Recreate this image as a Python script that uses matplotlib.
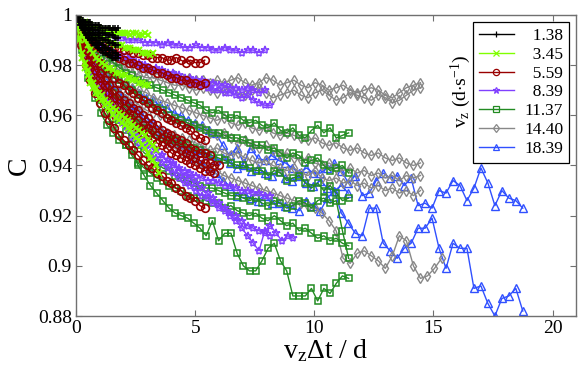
import numpy as np
import matplotlib.pyplot as plt

plt.rcParams['font.family'] = 'Liberation Serif'
plt.rcParams['mathtext.fontset'] = 'custom'
plt.rcParams['mathtext.rm'] = 'Liberation Serif'
plt.rcParams['mathtext.it'] = 'Liberation Serif:italic'

# vertical speed of each group of runs (d/s), legend order
speeds = ['1.38', '3.45', '5.59', '8.39', '11.37', '14.40', '18.39']
# lag step of each group, in units of v_z*dt/d
steps = [0.06, 0.12, 0.2, 0.24, 0.26, 0.295, 0.293]

# 1 - C in thousandths, one list per run
loss_138 = [
    [0,1,1,2,2,2,3,3,3,3,3,4,4,4,4,4,4,5,5,5,5,5,5,5,5,6,5,5,6,5],
    [0,1,2,2,3,3,4,4,4,5,5,5,6,6,6,6,7,7,7,7,7,8,8,8,8,8,8,9,9,9],
    [0,1,2,3,4,4,5,5,6,6,7,7,7,8,8,8,9,9,9,10,10,10,10,11,11,11,11,12,12,12],
    [0,2,3,4,5,5,6,7,7,8,8,9,9,10,10,11,11,11,12,12,13,13,13,14,14,14,15,15,15,16],
    [0,2,3,4,5,6,7,8,9,9,10,11,11,12,12,13,13,14,14,15,15,15,16,16,16,17,17,17,17,17],
]
loss_345 = [
    [0,2,3,3,4,4,5,5,5,6,6,6,6,7,7,7,7,7,7,8,7,7,8,8,7,8],
    [0,2,4,5,6,7,8,8,9,9,10,10,11,11,12,12,12,13,13,13,14,14,14,15,15,15,16,15],
    [0,5,8,10,12,14,15,17,18,19,20,21,21,22,23,23,24,24,25,25,26,26,27,27,28,28],
    [0,10,17,21,24,27,29,31,33,34,36,37,38,40,41,42,43,44,45,46,48,49,50,52,53,55,57,58,60,63],
    [0,9,15,19,22,25,27,29,31,32,34,35,36,37,38,39,40,41,42,43,44,45,46,47,48,50,51,52,54],
]
loss_559 = [
    [0,4,6,8,9,10,11,12,13,13,14,14,15,15,16,16,17,17,17,18,18,17,18,19,18,19,19,18],
    [0,5,8,10,12,13,14,15,16,17,18,19,19,20,21,21,22,23,23,24,25,25,26,26,27,27,28,27],
    [0,7,11,14,17,19,21,23,25,27,28,30,31,33,34,35,37,38,39,41,42,43,44,45,46,48,49,50],
    [0,8,13,17,20,23,26,28,30,32,34,35,37,38,40,41,43,44,46,47,48,49,50,51,53,54,55,55,56],
    [0,9,14,18,22,25,28,31,33,35,37,39,40,42,44,45,46,48,49,50,51,53,54,55,56,57,58,59,59,60,60],
    [0,10,16,21,25,28,31,34,36,38,40,42,44,45,47,48,50,51,52,53,55,56,57,58,59,60,61,62,62,63],
    [0,12,20,26,31,35,39,42,45,48,50,52,54,56,58,60,61,63,64,66,67,69,70,72,73,74,76,77],
]
loss_839 = [
    [0,3,5,6,7,8,8,9,9,10,10,10,11,11,11,12,11,12,12,13,13,12,13,13,14,14,13,14,14,15,14,14,15,14],
    [0,5,8,10,12,14,15,16,17,18,19,20,21,22,22,23,24,25,26,26,27,28,28,29,30,30,31,31,32,33,32,34,35,36,36],
    [0,4,7,9,11,12,14,15,16,17,18,19,20,21,21,22,23,23,24,25,25,26,26,27,27,28,28,29,29,30,29,30,31,30],
    [0,10,17,23,28,32,36,40,43,46,49,51,53,55,57,59,61,63,65,67,68,70,72,73,75,77,78,80,82,85,88,91,94,86,84,87,90,88,89],
    [0,9,16,21,26,30,34,37,40,43,46,48,50,52,54,56,58,60,62,64,65,67,69,71,73,75,77,79,80,82,84,85,86,87,88],
    [0,8,14,19,24,28,32,35,38,41,44,47,50,52,54,56,58,59,61,62,63,64,65,66,66,67,68,68,69,70,70,71,71,72,72],
]
loss_1137 = [
    [0,6,10,13,15,17,19,21,23,24,26,27,28,29,30,31,32,33,34,35,36,38,39,38,40,41,40,42,43,42,
     44,45,43,46,47,45,48,49,46,44,47,45,49,48,47],
    [0,7,12,16,19,22,24,26,28,30,32,34,35,37,38,40,41,42,43,44,45,46,47,47,48,49,49,50,51,52,
     52,54,53,55,57,55,56,59,58,57,60,62,61,60,63],
    [0,9,15,20,24,28,31,34,37,40,43,45,47,48,49,50,50,51,52,53,54,55,56,57,58,59,60,60,61,62,
     62,64,62,63,66,65,64,67,69,67,70,68,71,74,73],
    [0,10,18,24,29,34,38,42,46,49,52,55,57,59,61,62,64,65,66,67,68,69,69,70,71,72,72,73,74,73,
     75,76,74,75,77,76,74,75,77,74,73,75,74,86,97],
    [0,12,21,28,34,39,44,48,52,56,59,61,63,65,66,68,69,70,72,73,73,74,75,75,77,76,78,79,80,79,
     81,82,80,82,84,83,86,85,87,89,88,90,89,91,92],
    [0,14,25,33,39,44,47,50,52,54,60,64,68,71,74,77,79,80,81,83,85,88,82,90,87,87,95,100,102,102,
     98,93,91,98,102,112,112,112,109,114,109,111,107,104,105],
]
loss_1440 = [
    [0,6,10,13,15,17,18,19,20,21,22,23,23,24,24,25,25,26,26,27,26,27,26,25,27,28,27,25,26,28,
     27,26,28,29,27,28,30,29,28,30,31,30,29,30,32,33,31,29,28,27],
    [0,7,11,14,17,19,20,22,23,24,25,25,26,27,28,28,29,30,29,30,31,30,29,31,32,30,29,31,33,32,
     31,30,32,33,31,30,32,34,33,31,32,33,34,32,33,35,34,32,30,29],
    [0,7,12,16,20,23,25,27,29,30,31,33,34,35,36,37,38,39,40,41,42,41,43,44,43,45,46,45,47,48,
     47,48,49,50,49,51,52,51,53,54,53,55,56,55,57,58,57,59,60,59],
    [0,9,15,20,24,27,30,32,34,36,38,39,40,41,42,43,44,44,45,47,48,47,49,51,50,52,53,52,54,56,
     55,57,58,57,59,60,59,61,62,61,63,62,64,63,65,64,66,64,65,64],
    [0,11,18,24,28,32,35,38,40,42,44,45,46,47,48,49,50,51,52,54,53,55,56,55,57,58,59,58,60,61,
     62,61,63,64,62,65,66,65,67,66,68,67,69,68,70,69,71,70,72,70],
    [0,10,17,23,28,32,35,38,40,43,45,47,49,51,53,55,56,58,60,61,62,64,65,66,67,68,69,70,71,72,
     73,74,75,76,77,79,82,86,97,99,95,94,96,98,101,96,88,90,100,105,104,101,97],
]
loss_1839 = [
    [0,8,13,17,20,23,25,27,29,31,33,34,36,37,39,40,42,43,44,46,47,52,56,53,59,53,57,58,56,58,
     59,61,63,61,63,63,61,59,62,67,64,72,71,66,63,65,64,68,65,76,75,77,70,71,66,68,74,69,61,67,
     76,70,73,74,77],
    [0,9,15,20,24,28,31,34,37,40,42,45,47,49,51,53,55,57,59,61,63,66,68,72,71,73,74,72,75,75,
     76,77,78,74,76,78,73,70,79,83,87,88,77,77,91,94,97,93,91,85,85,81,93,101,91,93,93,109,108,115,
     120,113,112,109,118],
    [0,9,15,19,23,27,30,33,36,38,41,43,45,47,49,51,53,55,54,56,58,57,59,61,60,62,61,63,64,62,
     65,66,64,67,68,66,69,70,68,71],
]
groups = [loss_138, loss_345, loss_559, loss_839, loss_1137, loss_1440, loss_1839]

colors = ['black', '#80ff00', '#990000', '#8040ff', '#228b22', '#888888', '#3050ff']
markers = ['+', 'x', 'o', '*', 's', 'd', '^']
msizes = [5, 5, 5.5, 6, 4.5, 5.5, 6]
mwidths = [1.1, 1.4, 1.2, 1.1, 1.1, 1.0, 1.0]

xticks = [0, 5, 10, 15, 20]
yticks = [0.88, 0.9, 0.92, 0.94, 0.96, 0.98, 1.0]
ytick_labels = ['0.88', '0.9', '0.92', '0.94', '0.96', '0.98', '1']

fig = plt.figure(figsize=(5.81, 3.74), dpi=100)
ax = fig.add_axes([0.131, 0.155, 0.861, 0.805])

handles = [None] * len(groups)
# draw fastest first so the slow runs end up on top
for k in reversed(range(len(groups))):
    for run in groups[k]:
        loss = np.array(run, dtype=float)
        x = np.arange(len(loss)) * steps[k]
        c = 1 - loss / 1000.0
        ln, = ax.plot(x, c, color=colors[k], marker=markers[k], ms=msizes[k],
                      mfc='none', mec=colors[k], mew=mwidths[k], lw=1.0)
        if handles[k] is None:
            handles[k] = ln

ax.set_xlim(0, 21)
ax.set_ylim(0.88, 1.0)
ax.set_xticks(xticks)
ax.set_xticklabels([str(t) for t in xticks])
ax.set_yticks(yticks)
ax.set_yticklabels(ytick_labels)
ax.tick_params(direction='in', top=True, right=True, length=4, color='#707070',
               labelsize=14, pad=3)
for s in ax.spines.values():
    s.set_color('#707070')
    s.set_linewidth(1.0)

ax.set_xlabel(r'$\mathrm{v_z\Delta t\ /\ d}$', fontsize=20, labelpad=0)
ax.set_ylabel('C', fontsize=20, labelpad=4)

labels = [s if len(s) == 5 else '  ' + s for s in speeds]
leg = ax.legend(handles, labels, loc='upper right', bbox_to_anchor=(0.986, 0.977),
                borderaxespad=0, fontsize=12.5, fancybox=False, edgecolor='black',
                framealpha=1, handlelength=2.0, handletextpad=0.6, labelspacing=0.15,
                borderpad=0.35)
leg.get_frame().set_linewidth(0.9)
for h in leg.legend_handles:
    h.set_markersize(4.5)
    h.set_markeredgewidth(0.9)

ax.text(0.77, 0.745, r'$\mathrm{v_z\ (d{\cdot}s^{-1})}$', transform=ax.transAxes,
        rotation=90, fontsize=14, ha='center', va='center')

fig.savefig('out.png', dpi=100)
